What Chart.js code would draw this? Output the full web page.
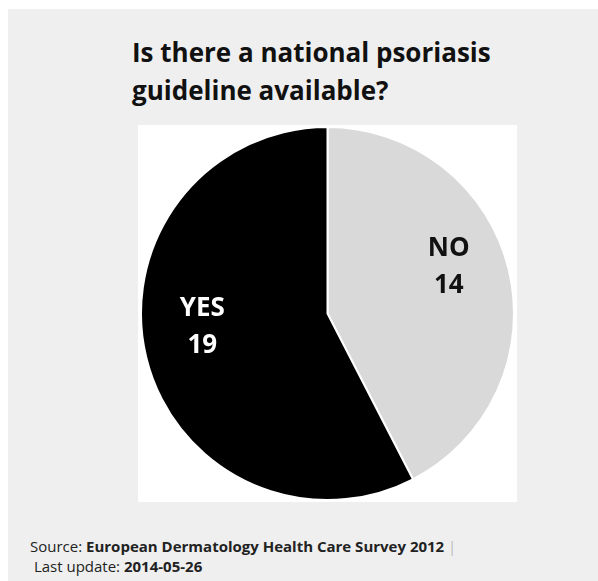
<!DOCTYPE html>
<html>
<head>
<meta charset="utf-8">
<script src="https://cdn.jsdelivr.net/npm/chart.js@4/dist/chart.umd.min.js"></script>
<style>
  html, body { margin: 0; padding: 0; background: #fff; }
  #panel { position: absolute; left: 8px; top: 9px; width: 590px; height: 572px; background: #efefef; }
  #title { position: absolute; left: 124px; top: 24px; font-family: "Open Sans", sans-serif; font-weight: 700;
           font-size: 26px; line-height: 38px; color: #111; }
  #box { position: absolute; left: 130px; top: 116px; width: 379px; height: 377px; background: #fff; }
  #foot { position: absolute; left: 22px; top: 527px; font-family: "Open Sans", sans-serif; font-size: 15px;
          line-height: 20px; color: #222; }
  #foot b { font-weight: 700; }
  #foot .sep { color: #bbb; }
</style>
</head>
<body>
<div id="panel">
  <div id="title">Is there a national psoriasis<br>guideline available?</div>
  <div id="box"><canvas id="pie"></canvas></div>
  <div id="foot">Source: <b>European Dermatology Health Care Survey 2012</b> <span class="sep">|</span><br>&nbsp;Last update: <b>2014-05-26</b></div>
</div>
<script>
var categories = ["NO", "YES"];
var answers = [14, 19];
var sliceColors = ["#d9d9d9", "#000000"];
var labelColors = ["#111111", "#ffffff"];

// labels inside slices, placed from each arc
var sliceLabels = {
  id: 'sliceLabels',
  afterDatasetsDraw: function(chart) {
    var ctx = chart.ctx;
    var meta = chart.getDatasetMeta(0);
    meta.data.forEach(function(arc, i) {
      var p = arc.getProps(['x', 'y', 'startAngle', 'endAngle', 'outerRadius'], true);
      var mid = (p.startAngle + p.endAngle) / 2;
      var r = p.outerRadius * 0.68;
      var x = p.x + Math.cos(mid) * r - 2;
      var y = p.y + Math.sin(mid) * r - 17;
      ctx.save();
      ctx.fillStyle = labelColors[i];
      ctx.font = 'bold 26px "Open Sans", sans-serif';
      ctx.textAlign = 'center';
      ctx.textBaseline = 'middle';
      ctx.fillText(categories[i], x, y - 18);
      ctx.fillText(String(answers[i]), x, y + 19);
      ctx.restore();
    });
  }
};

new Chart(document.getElementById('pie'), {
  type: 'pie',
  data: {
    labels: categories,
    datasets: [{
      data: answers,
      backgroundColor: sliceColors,
      borderColor: '#ffffff',
      borderWidth: 2
    }]
  },
  options: {
    responsive: true,
    maintainAspectRatio: false,
    animation: false,
    layout: { padding: 1 },
    plugins: {
      legend: { display: false },
      tooltip: { enabled: false }
    }
  },
  plugins: [sliceLabels]
});
</script>
</body>
</html>
